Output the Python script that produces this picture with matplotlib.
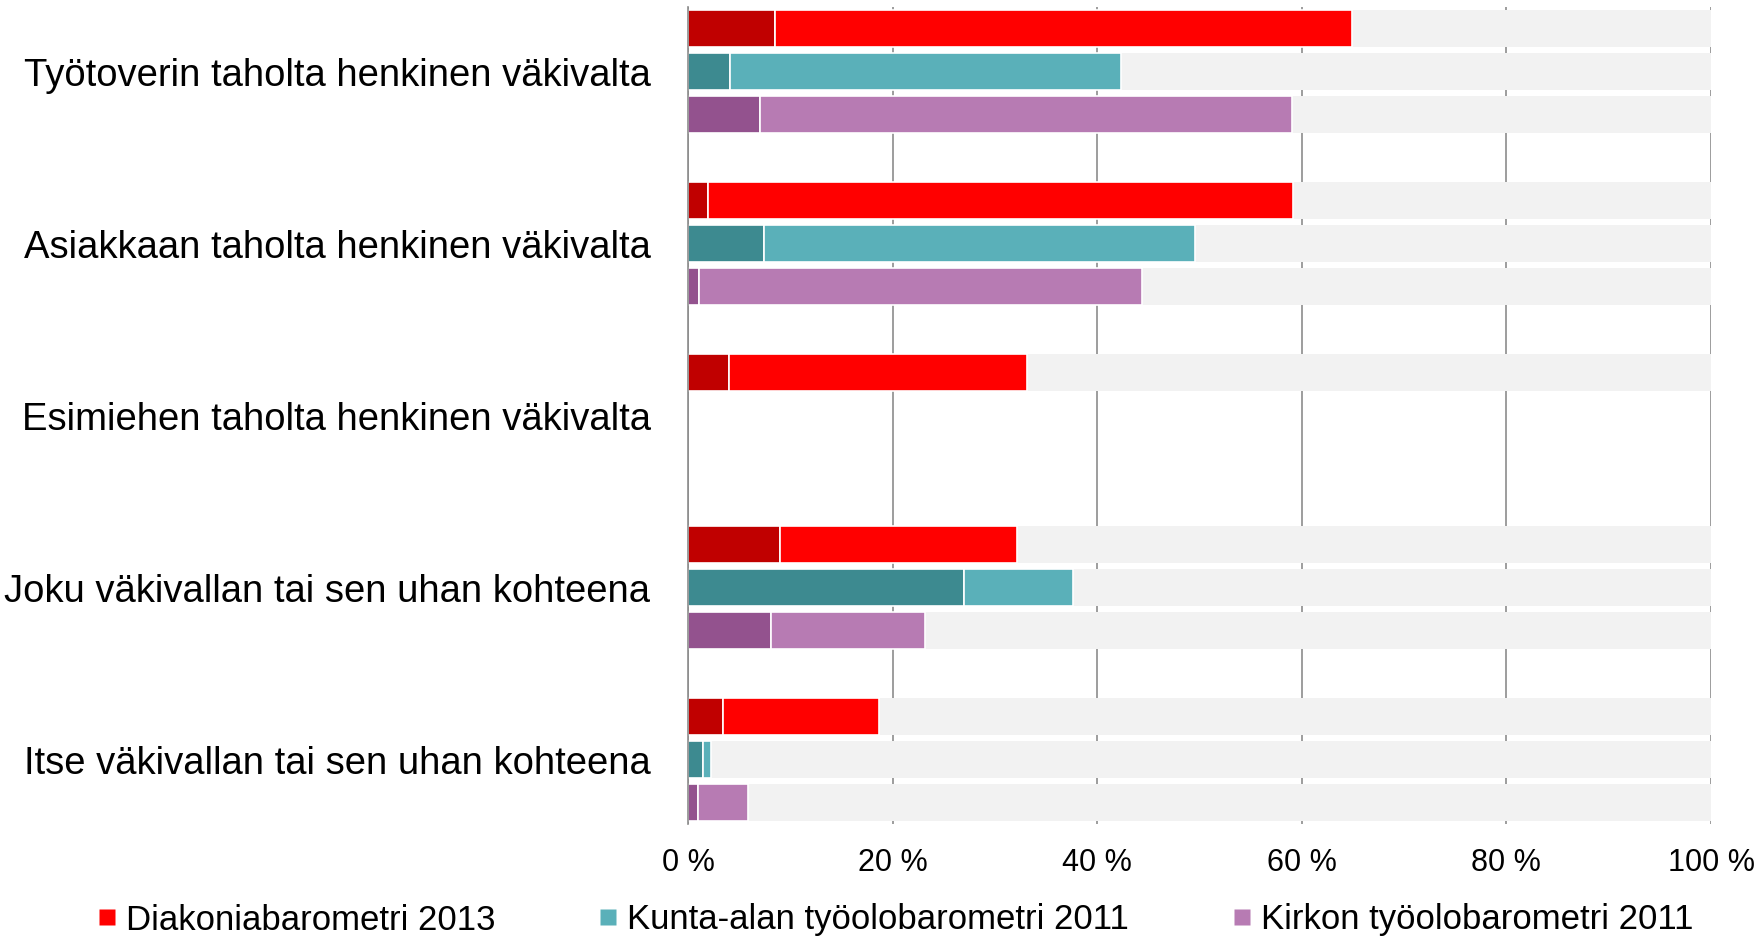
import numpy as np
import matplotlib
matplotlib.use("Agg")
import matplotlib.pyplot as plt
from matplotlib.lines import Line2D

plt.rcParams['font.family'] = ['Liberation Sans', 'DejaVu Sans']

categories = [
    "Työtoverin taholta henkinen väkivalta",
    "Asiakkaan taholta henkinen väkivalta",
    "Esimiehen taholta henkinen väkivalta",
    "Joku väkivallan tai sen uhan kohteena",
    "Itse väkivallan tai sen uhan kohteena",
]
series = ["Diakoniabarometri 2013", "Kunta-alan työolobarometri 2011", "Kirkon työolobarometri 2011"]

# dark segment (often) and total (often + sometimes), percent
diak_dark = [8.5, 2.0, 4.0, 9.0, 3.4]
diak_total = [64.9, 59.1, 33.1, 32.2, 18.7]
kunta_dark = [4.1, 7.4, np.nan, 27.0, 1.5]
kunta_total = [42.3, 49.6, np.nan, 37.6, 2.2]
kirkko_dark = [7.0, 1.1, np.nan, 8.1, 1.0]
kirkko_total = [59.0, 44.4, np.nan, 23.2, 5.9]

dark_colors = ["#C00000", "#3D8A90", "#93528E"]
light_colors = ["#FF0000", "#5AB0B9", "#B77BB3"]
legend_colors = ["#FF0000", "#5AB0B9", "#B77BB3"]
rest_color = "#F2F2F2"

xticks = [0, 20, 40, 60, 80, 100]
xticklabels = ["0 %", "20 %", "40 %", "60 %", "80 %", "100 %"]

fig = plt.figure(figsize=(17.63, 9.40), dpi=100)
ax = fig.add_axes([688/1763, 1-824/940, (1711-688)/1763, (824-7)/940])

darks = [diak_dark, kunta_dark, kirkko_dark]
totals = [diak_total, kunta_total, kirkko_total]
h = 0.87
for s in range(3):
    pos = np.arange(len(categories)) * 4 + s
    d = np.array(darks[s], dtype=float)
    t = np.array(totals[s], dtype=float)
    ok = ~np.isnan(d)
    ax.barh(pos[ok], d[ok], height=h, color=dark_colors[s], edgecolor="white", linewidth=1.2, zorder=3)
    ax.barh(pos[ok], t[ok]-d[ok], left=d[ok], height=h, color=light_colors[s], edgecolor="white", linewidth=1.2, zorder=3)
    ax.barh(pos[ok], 100-t[ok], left=t[ok], height=h, color=rest_color, edgecolor="none", linewidth=0, zorder=2)

ax.set_xlim(0, 100)
ax.set_ylim(18.5, -0.5)
ax.set_xticks(xticks)
ax.set_xticklabels(xticklabels, fontsize=22)
ax.set_yticks(np.arange(len(categories)) * 4 + 1)
ax.set_yticklabels(categories, fontsize=27.5)
ax.tick_params(axis='both', length=0)
ax.tick_params(axis='x', pad=17)
ax.tick_params(axis='y', pad=27)
ax.grid(axis='x', color="#8C8C8C", linewidth=1.2, zorder=0)
ax.set_axisbelow(True)
for sp in ["top", "right", "bottom"]:
    ax.spines[sp].set_visible(False)
ax.spines["left"].set_color("#8C8C8C")
ax.spines["left"].set_linewidth(1.2)
ax.spines["left"].set_zorder(5)

handles = [Line2D([], [], marker='s', linestyle='none', markersize=11.5,
                  markerfacecolor=c, markeredgecolor='none') for c in legend_colors]
fig.legend(handles, series, loc='center', bbox_to_anchor=(0.508, 1-920/940), ncol=3,
           frameon=False, fontsize=25, handlelength=0.5, handletextpad=0.3,
           columnspacing=3.0, borderpad=0, borderaxespad=0)

fig.savefig("out.png", dpi=100)
